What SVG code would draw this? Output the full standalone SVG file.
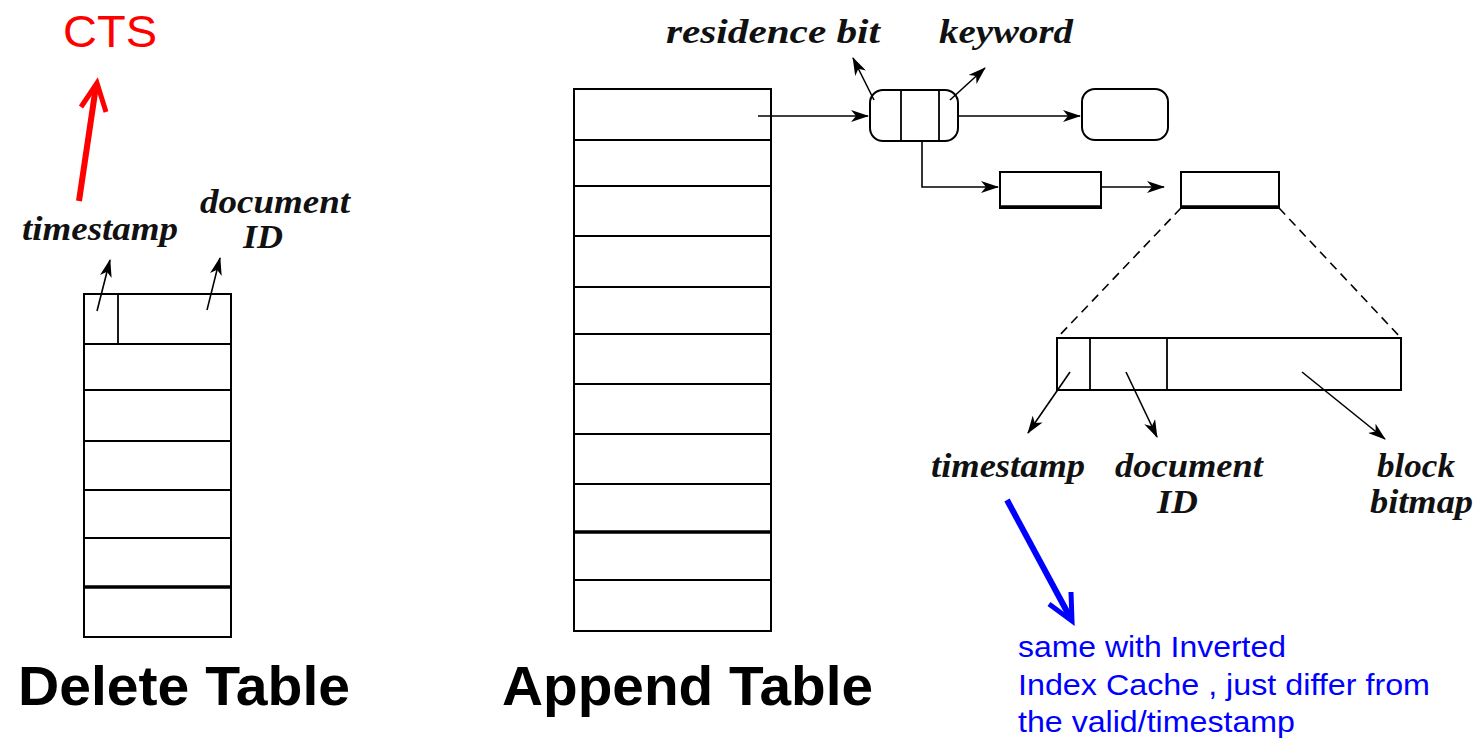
<svg xmlns="http://www.w3.org/2000/svg" width="1477" height="739" viewBox="0 0 1477 739">
<defs>
<style>
.ln{fill:none;stroke:#000;stroke-width:1.6}
.tb{fill:#fff;stroke:#000;stroke-width:2}
.thick{stroke:#000;stroke-width:3.5}
.row{stroke:#000;stroke-width:1.8}
.lbl{font-family:"Liberation Serif",serif;font-style:italic;font-weight:bold;font-size:33px;fill:#111}
.title{font-family:"Liberation Sans",Arial,sans-serif;font-weight:bold;font-size:56px;fill:#000}
.dash{fill:none;stroke:#000;stroke-width:1.6;stroke-dasharray:9 6}
.blue{font-family:"Liberation Sans",Arial,sans-serif;font-size:30px;fill:#0000ff}
</style>
<marker id="ah" markerUnits="userSpaceOnUse" markerWidth="20" markerHeight="12" refX="17" refY="6" orient="auto">
<path d="M0,0 L18,6 L0,12 L5,6 z" fill="#000"/>
</marker>
</defs>

<g id="cts">
<text x="63" y="47" font-family="Liberation Sans,Arial,sans-serif" font-size="45" fill="#ff0000" textLength="94" lengthAdjust="spacingAndGlyphs">CTS</text>
</g>

<g id="delete-table">
<rect class="tb" x="84" y="294" width="147" height="343"/>
<line class="row" x1="118" y1="294" x2="118" y2="344"/>
<line class="row" x1="84" y1="344" x2="231" y2="344"/>
<line class="row" x1="84" y1="390" x2="231" y2="390"/>
<line class="row" x1="84" y1="441" x2="231" y2="441"/>
<line class="row" x1="84" y1="490" x2="231" y2="490"/>
<line class="row" x1="84" y1="538" x2="231" y2="538"/>
<line class="thick" x1="84" y1="587" x2="231" y2="587"/>
<text class="title" x="18" y="705" textLength="332" lengthAdjust="spacingAndGlyphs">Delete  Table</text>
</g>

<g id="delete-labels">
<text class="lbl" x="22" y="240" textLength="156" lengthAdjust="spacingAndGlyphs">timestamp</text>
<text class="lbl" x="200" y="213" textLength="150" lengthAdjust="spacingAndGlyphs">document</text>
<text class="lbl" x="243" y="248" textLength="40" lengthAdjust="spacingAndGlyphs">ID</text>
</g>

<g id="append-table">
<rect class="tb" x="574" y="89" width="197" height="542"/>
<line class="row" x1="574" y1="140" x2="771" y2="140"/>
<line class="row" x1="574" y1="186" x2="771" y2="186"/>
<line class="row" x1="574" y1="236" x2="771" y2="236"/>
<line class="row" x1="574" y1="287" x2="771" y2="287"/>
<line class="row" x1="574" y1="334" x2="771" y2="334"/>
<line class="row" x1="574" y1="384" x2="771" y2="384"/>
<line class="row" x1="574" y1="434" x2="771" y2="434"/>
<line class="row" x1="574" y1="484" x2="771" y2="484"/>
<line class="thick" x1="574" y1="532" x2="771" y2="532"/>
<line class="row" x1="574" y1="580" x2="771" y2="580"/>
<text class="title" x="502" y="705" textLength="371" lengthAdjust="spacingAndGlyphs">Append  Table</text>
</g>

<g id="keyword-node">
<rect class="tb" x="870" y="90" width="88" height="51" rx="13" ry="13"/>
<line class="row" x1="901" y1="90" x2="901" y2="141"/>
<line class="row" x1="939" y1="90" x2="939" y2="141"/>
<text class="lbl" x="666" y="43" textLength="214" lengthAdjust="spacingAndGlyphs">residence  bit</text>
<text class="lbl" x="939" y="43" textLength="134" lengthAdjust="spacingAndGlyphs">keyword</text>
</g>

<g id="next-node">
<rect class="tb" x="1082" y="89" width="86" height="51" rx="13" ry="13"/>
</g>

<g id="list-block-1">
<rect class="tb" x="1000" y="172" width="101" height="36"/>
<line class="thick" x1="1000" y1="207" x2="1101" y2="207"/>
</g>

<g id="list-block-2">
<rect class="tb" x="1181" y="172" width="98" height="36"/>
<line class="thick" x1="1181" y1="207" x2="1279" y2="207"/>
</g>

<g id="record">
<rect class="tb" x="1057" y="338" width="344" height="52"/>
<line class="row" x1="1090" y1="338" x2="1090" y2="390"/>
<line class="row" x1="1167" y1="338" x2="1167" y2="390"/>
</g>

<g id="record-labels">
<text class="lbl" x="931" y="477" textLength="154" lengthAdjust="spacingAndGlyphs">timestamp</text>
<text class="lbl" x="1115" y="477" textLength="148" lengthAdjust="spacingAndGlyphs">document</text>
<text class="lbl" x="1157" y="513" textLength="41" lengthAdjust="spacingAndGlyphs">ID</text>
<text class="lbl" x="1377" y="477" textLength="78" lengthAdjust="spacingAndGlyphs">block</text>
<text class="lbl" x="1370" y="513" textLength="103" lengthAdjust="spacingAndGlyphs">bitmap</text>
</g>

<g id="note">
<text class="blue" x="1018" y="657" textLength="268" lengthAdjust="spacingAndGlyphs">same with Inverted</text>
<text class="blue" x="1018" y="695" textLength="412" lengthAdjust="spacingAndGlyphs">Index Cache , just differ from</text>
<text class="blue" x="1018" y="732" textLength="277" lengthAdjust="spacingAndGlyphs">the valid/timestamp</text>
</g>

<g id="connectors">
<line class="ln" x1="758" y1="116" x2="868" y2="116" marker-end="url(#ah)"/>
<line class="ln" x1="958" y1="116" x2="1080" y2="116" marker-end="url(#ah)"/>
<polyline class="ln" points="922,141 922,187 998,187" marker-end="url(#ah)"/>
<line class="ln" x1="1101" y1="187" x2="1164" y2="187" marker-end="url(#ah)"/>
<line class="ln" x1="874" y1="100" x2="853" y2="58" marker-end="url(#ah)"/>
<line class="ln" x1="950" y1="100" x2="985" y2="68" marker-end="url(#ah)"/>
<line class="ln" x1="97" y1="311" x2="110" y2="260" marker-end="url(#ah)"/>
<line class="ln" x1="207" y1="310" x2="220" y2="258" marker-end="url(#ah)"/>
<line class="dash" x1="1181" y1="208" x2="1057" y2="338"/>
<line class="dash" x1="1279" y1="208" x2="1401" y2="338"/>
<line class="ln" x1="1070" y1="372" x2="1028" y2="433" marker-end="url(#ah)"/>
<line class="ln" x1="1126" y1="372" x2="1157" y2="437" marker-end="url(#ah)"/>
<line class="ln" x1="1302" y1="372" x2="1385" y2="439" marker-end="url(#ah)"/>
<line x1="79" y1="201" x2="96" y2="86" stroke="#ff0000" stroke-width="6"/>
<polyline points="81,107 97,83 106,112" fill="none" stroke="#ff0000" stroke-width="5"/>
<line x1="1007" y1="500" x2="1071" y2="619" stroke="#0000ff" stroke-width="6"/>
<polyline points="1049,604 1072,621 1071,592" fill="none" stroke="#0000ff" stroke-width="5"/>
</g>
</svg>
